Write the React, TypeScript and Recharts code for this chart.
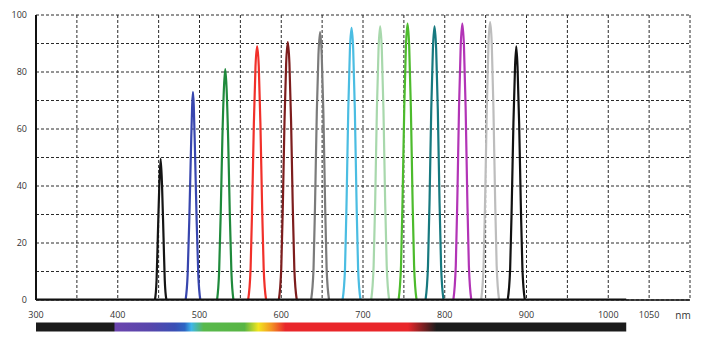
import React from "react";
import {
  LineChart,
  Line,
  XAxis,
  YAxis,
  CartesianGrid,
  ReferenceArea
} from "recharts";

// wavelength grid / labels
const xTicks = [300, 350, 400, 450, 500, 550, 600, 650, 700, 750, 800, 850, 900, 950, 1000, 1050, 1100];
const xLabels = [300, 400, 500, 600, 700, 800, 900, 1000, 1050];
const yTicks = [0, 10, 20, 30, 40, 50, 60, 70, 80, 90, 100];
const yLabels = [0, 20, 40, 60, 80, 100];

// transmission curves: [nm, %]
const f452 = [[445.5, 0], [447.5, 7], [449, 22], [450.8, 40], [452.5, 49.5], [454.2, 40], [456, 22], [457.5, 7], [459.5, 0]];
const f492 = [[483, 0], [485.5, 9], [487.5, 28], [489.5, 52], [491, 68], [492, 73], [493, 68], [494.5, 52], [496.5, 28], [498.5, 9], [501, 0]];
const f532 = [[521.5, 0], [524, 10], [526, 31], [528, 57], [530, 75], [531.5, 81], [533, 75], [535, 57], [537, 31], [539, 10], [541.5, 0]];
const f570 = [[559.5, 0], [562.5, 11], [564.5, 34], [566.5, 62], [568.5, 82], [570.5, 89], [572.5, 82], [574.5, 62], [576.5, 34], [578.5, 11], [581.5, 0]];
const f608 = [[597, 0], [600, 11], [602, 34], [604, 63], [606, 83], [608, 90.5], [610, 83], [612, 63], [614, 34], [616, 11], [619, 0]];
const f647 = [[636.5, 0], [639.5, 11], [641.5, 36], [643.5, 66], [645.5, 86], [647.5, 94], [649.5, 86], [651.5, 66], [653.5, 36], [655.5, 11], [658.5, 0]];
const f686 = [[675, 0], [678, 11], [680, 36], [682, 67], [684, 88], [686, 95.5], [688, 88], [690, 67], [692, 36], [694, 11], [697, 0]];
const f721 = [[710, 0], [713, 12], [715, 36], [717, 67], [719, 88], [721, 96], [723, 88], [725, 67], [727, 36], [729, 12], [732, 0]];
const f754 = [[743.5, 0], [746.5, 12], [748.5, 37], [750.5, 68], [752.5, 89], [754.5, 97], [756.5, 89], [758.5, 68], [760.5, 37], [762.5, 12], [765.5, 0]];
const f787 = [[776.5, 0], [779.5, 12], [781.5, 36], [783.5, 67], [785.5, 88], [787.5, 96], [789.5, 88], [791.5, 67], [793.5, 36], [795.5, 12], [798.5, 0]];
const f821 = [[810.5, 0], [813.5, 12], [815.5, 37], [817.5, 68], [819.5, 89], [821.5, 97], [823.5, 89], [825.5, 68], [827.5, 37], [829.5, 12], [832.5, 0]];
const f855 = [[844.5, 0], [847.5, 12], [849.5, 37], [851.5, 68], [853.5, 90], [855.5, 97.5], [857.5, 90], [859.5, 68], [861.5, 37], [863.5, 12], [866.5, 0]];
const f887 = [[877, 0], [880, 11], [882, 34], [884, 62], [886, 82], [887.5, 89], [889, 82], [891, 62], [893, 34], [895, 11], [898, 0]];
const baseline = [[300, 0], [1022, 0]];

const filters = [
  { key: "f452", pts: f452, color: "#151515" },
  { key: "f492", pts: f492, color: "#3846ae" },
  { key: "f532", pts: f532, color: "#1f8a3c" },
  { key: "f570", pts: f570, color: "#f1302a" },
  { key: "f608", pts: f608, color: "#7d1d1d" },
  { key: "f647", pts: f647, color: "#7b7b7b" },
  { key: "f686", pts: f686, color: "#4bbde2" },
  { key: "f721", pts: f721, color: "#a8d8ac" },
  { key: "f754", pts: f754, color: "#4dbb2d" },
  { key: "f787", pts: f787, color: "#17797f" },
  { key: "f821", pts: f821, color: "#b234b6" },
  { key: "f855", pts: f855, color: "#bdbdbd" },
  { key: "f887", pts: f887, color: "#111111" }
];

// visible spectrum strip under the axis
const spectrumStart = 300;
const spectrumEnd = 1022;
const spectrumStops = [
  [300, "#1b1b1b"], [395, "#1b1b1b"], [397, "#6a44ad"], [440, "#5746ac"],
  [470, "#3a4fb5"], [482, "#2d66c4"], [490, "#3fb6ea"], [505, "#58b94c"],
  [555, "#58b544"], [572, "#f2e51e"], [588, "#f39323"], [605, "#e9262a"],
  [755, "#e9262a"], [790, "#1b1b1b"], [1022, "#1b1b1b"]
];

const toRows = (pts: number[][]) => pts.map(([nm, t]) => ({ nm, t }));

const font = "'Open Sans', 'Liberation Sans', sans-serif";

const XTick = (props: any) => {
  const { x, y, payload } = props;
  if (payload.value === 1100) {
    return (
      <text x={x - 7} y={y + 19} textAnchor="middle" fontSize={10} fill="#333" fontFamily={font}>
        nm
      </text>
    );
  }
  if (!xLabels.includes(payload.value)) return <g />;
  return (
    <text x={x} y={y + 18} textAnchor="middle" fontSize={9} fill="#333" fontFamily={font}>
      {payload.value}
    </text>
  );
};

const YTick = (props: any) => {
  const { x, y, payload } = props;
  if (!yLabels.includes(payload.value)) return <g />;
  return (
    <text x={x - 9} y={y + 3} textAnchor="end" fontSize={9} fill="#333" fontFamily={font}>
      {payload.value}
    </text>
  );
};

export default function App() {
  return (
    <div style={{ width: 702, height: 360, background: "#fff" }}>
      <style>{`body{margin:0}`}</style>
      <LineChart width={702} height={360} margin={{ top: 15, right: 12, bottom: 30, left: 6 }}>
        <defs>
          <linearGradient id="spectrum" x1="0" y1="0" x2="1" y2="0">
            {spectrumStops.map(([nm, c]) => (
              <stop
                key={nm as number}
                offset={((nm as number) - spectrumStart) / (spectrumEnd - spectrumStart)}
                stopColor={c as string}
              />
            ))}
          </linearGradient>
        </defs>
        <CartesianGrid stroke="#2a2a2a" strokeDasharray="3 2" strokeWidth={1} />
        <XAxis
          dataKey="nm"
          type="number"
          domain={[300, 1100]}
          ticks={xTicks}
          interval={0}
          tickLine={false}
          tickSize={0}
          tickMargin={0}
          height={30}
          axisLine={{ stroke: "#111", strokeWidth: 1.5 }}
          tick={<XTick />}
          allowDataOverflow
        />
        <YAxis
          type="number"
          domain={[0, 100]}
          ticks={yTicks}
          interval={0}
          tickLine={false}
          tickSize={0}
          tickMargin={0}
          width={30}
          axisLine={{ stroke: "#111", strokeWidth: 2 }}
          tick={<YTick />}
          allowDataOverflow
        />
        <ReferenceArea
          x1={spectrumStart}
          x2={spectrumEnd}
          y1={-7.9}
          y2={-11.05}
          ifOverflow="visible"
          fill="url(#spectrum)"
          fillOpacity={1}
          stroke="none"
        />
        {filters.map((f) => (
          <Line
            key={f.key}
            data={toRows(f.pts)}
            dataKey="t"
            type="monotone"
            stroke={f.color}
            strokeWidth={2.2}
            dot={false}
            activeDot={false}
            isAnimationActive={false}
          />
        ))}
        <Line
          data={toRows(baseline)}
          dataKey="t"
          type="linear"
          stroke="#111"
          strokeWidth={3}
          dot={false}
          activeDot={false}
          isAnimationActive={false}
        />
      </LineChart>
    </div>
  );
}
